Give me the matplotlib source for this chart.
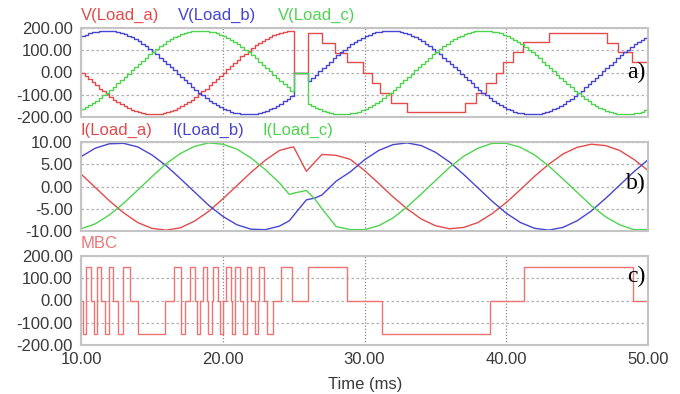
import numpy as np
import matplotlib.pyplot as plt
from matplotlib.ticker import FormatStrFormatter

plt.rcParams['font.family'] = ['Liberation Sans', 'DejaVu Sans']
plt.rcParams['axes.unicode_minus'] = False

# ---- a) load voltages (V), staircase samples every 0.25 ms
t_v = np.arange(10.0, 50.001, 0.25)
v_b = [163, 170, 176, 180, 184, 186, 188, 188,
       187, 185, 182, 177, 172, 165, 158, 149,
       140, 129, 118, 106, 94, 81, 67, 53,
       39, 25, 10, -5, -20, -34, -49, -63,
       -77, -90, -102, -114, -126, -136, -146, -155,
       -163, -170, -176, -180, -184, -186, -188, -188,
       -187, -185, -182, -177, -172, -165, -158, -149,
       -140, -129, -118, -106, 0, 0, 0, 0,
       -39, -25, -10, 5, 20, 34, 49, 63,
       77, 90, 102, 114, 126, 136, 146, 155,
       163, 170, 176, 180, 184, 186, 188, 188,
       187, 185, 182, 177, 172, 165, 158, 149,
       140, 129, 118, 106, 94, 81, 67, 53,
       39, 25, 10, -5, -20, -34, -49, -63,
       -77, -90, -102, -114, -126, -136, -146, -155,
       -163, -170, -176, -180, -184, -186, -188, -188,
       -187, -185, -182, -177, -172, -165, -158, -149,
       -140, -129, -118, -106, -94, -81, -67, -53,
       -39, -25, -10, 5, 20, 34, 49, 63,
       77, 90, 102, 114, 126, 136, 146, 155,
       163]
v_c = [-163, -155, -146, -136, -126, -114, -102, -90,
       -77, -63, -49, -34, -20, -5, 10, 25,
       39, 53, 67, 81, 94, 106, 118, 129,
       140, 149, 158, 165, 172, 177, 182, 185,
       187, 188, 188, 186, 184, 180, 176, 170,
       163, 155, 146, 136, 126, 114, 102, 90,
       77, 63, 49, 34, 20, 5, -10, -25,
       -39, -53, -67, -81, 0, 0, 0, 0,
       -140, -149, -158, -165, -172, -177, -182, -185,
       -187, -188, -188, -186, -184, -180, -176, -170,
       -163, -155, -146, -136, -126, -114, -102, -90,
       -77, -63, -49, -34, -20, -5, 10, 25,
       39, 53, 67, 81, 94, 106, 118, 129,
       140, 149, 158, 165, 172, 177, 182, 185,
       187, 188, 188, 186, 184, 180, 176, 170,
       163, 155, 146, 136, 126, 114, 102, 90,
       77, 63, 49, 34, 20, 5, -10, -25,
       -39, -53, -67, -81, -94, -106, -118, -129,
       -140, -149, -158, -165, -172, -177, -182, -185,
       -187, -188, -188, -186, -184, -180, -176, -170,
       -163]
# phase a: fine steps before the fault, coarse levels after it
t_va = np.r_[np.arange(10.0, 25.0, 0.25),
             [25.0, 26.0, 27.0, 27.9, 28.8, 29.9, 30.5, 31.1, 31.9, 33.0,
              37.1, 37.9, 38.6, 39.3, 39.8, 40.5, 41.2, 43.0, 47.1, 47.9,
              48.9, 50.0]]
v_a = [0, -15, -29, -44, -58, -72, -85, -98,
       -110, -122, -133, -143, -152, -160, -168, -174,
       -179, -183, -186, -187, -188, -187, -186, -183,
       -179, -174, -168, -160, -152, -143, -133, -122,
       -110, -98, -85, -72, -58, -44, -29, -15,
       0, 15, 29, 44, 58, 72, 85, 98,
       110, 122, 133, 143, 152, 160, 168, 174,
       179, 183, 186, 187,
       0, 177, 132, 88, 45, 0, -45, -90, -135, -177,
       -135, -90, -45, 0, 45, 90, 135, 177, 132, 90,
       45, 45]

# ---- b) load currents (A)
t_i = [10, 11, 12, 13, 14, 15, 16, 17, 18, 19, 20, 21, 22, 23, 24,
       24.7, 25.0, 25.9, 26.5, 27.0, 28.0,
       29, 30, 31, 32, 33, 34, 35, 36, 37, 38, 39, 40, 41, 42, 43, 44,
       45, 46, 47, 48, 49, 50]
i_a = [2.8, -0.2, -3.2, -5.9, -8.1, -9.4, -9.8, -9.3, -7.8, -5.6,
       -2.8, 0.2, 3.2, 5.9, 8.1,
       8.7, 8.9, 3.4, 5.5, 7.2, 7.0,
       6.1, 3.6, 0.7, -2.3, -5.0, -7.3, -8.8, -9.5, -9.2, -8.1, -6.1,
       -3.6, -0.7, 2.3, 5.0, 7.3, 8.8, 9.5, 9.2, 8.1, 6.1, 3.6]
i_b = [6.7, 8.6, 9.6, 9.7, 8.9, 7.1, 4.7, 1.8, -1.2, -4.2,
       -6.7, -8.6, -9.6, -9.7, -8.9,
       -7.7, -6.5, -3.0, -2.6, -1.9, 1.2,
       3.3, 6.0, 8.1, 9.4, 9.8, 9.2, 7.7, 5.5, 2.7, -0.3, -3.3,
       -6.0, -8.1, -9.4, -9.8, -9.2, -7.7, -5.5, -2.7, 0.3, 3.3, 6.0]
i_c = [-9.5, -8.4, -6.4, -3.8, -0.8, 2.2, 5.1, 7.4, 9.0, 9.8,
       9.5, 8.4, 6.4, 3.8, 0.8,
       -1.8, -1.5, -0.9, -2.8, -5.0, -9.0,
       -9.7, -9.7, -8.8, -7.1, -4.6, -1.7, 1.3, 4.3, 6.8, 8.6, 9.7,
       9.7, 8.8, 7.1, 4.6, 1.7, -1.3, -4.3, -6.8, -8.6, -9.7, -9.7]

# ---- c) MBC output, switching instants (ms) and levels (V)
t_mbc = [10.00, 10.14, 10.38, 10.68, 10.92, 11.15, 11.43, 11.67, 11.95, 12.26,
         12.61, 12.96, 13.48, 14.05, 15.95, 16.56, 17.08, 17.36, 17.69, 18.05,
         18.16, 18.40, 18.63, 18.87, 18.98, 19.22, 19.34, 19.69, 19.81, 20.04,
         20.23, 20.56, 20.63, 20.87, 21.22, 21.45, 21.69, 21.98, 22.28, 22.51,
         22.58, 22.91, 23.10, 23.57, 24.10, 24.90, 26.00, 28.80, 31.20, 38.87,
         41.22, 48.93, 50.00]
v_mbc = [0, -150, 150, 0, -150, 150, 0, -150, 150, 0,
         -150, 150, 0, -150, 0, 150, -150, 0, 150, 0,
         -150, 0, 150, 0, -150, 0, 150, 0, -150, 0,
         150, 0, -150, 150, 0, -150, 150, 0, -150, 0,
         150, 0, -150, 0, 150, 0, 150, 0, -150, 0,
         150, 0, 0]

RED = '#e44b4b'
BLUE = '#4646d2'
GREEN = '#4fd44f'
MBC_RED = '#f07474'
TXT = '#3a3a3a'

fig = plt.figure(figsize=(6.8, 3.94), dpi=100)
left, width, h = 81 / 680, 567 / 680, 89 / 394
ax1 = fig.add_axes([left, 1 - 117 / 394, width, h])
ax2 = fig.add_axes([left, 1 - 231 / 394, width, h])
ax3 = fig.add_axes([left, 1 - 345 / 394, width, h])

ax1.plot(t_va, v_a, color=RED, lw=1.0, drawstyle='steps-post')
ax1.plot(t_v, v_b, color=BLUE, lw=1.0, drawstyle='steps-post')
ax1.plot(t_v, v_c, color=GREEN, lw=1.0, drawstyle='steps-post')

ax2.plot(t_i, i_a, color=RED, lw=1.0)
ax2.plot(t_i, i_b, color=BLUE, lw=1.0)
ax2.plot(t_i, i_c, color=GREEN, lw=1.0)

ax3.plot(t_mbc, v_mbc, color=MBC_RED, lw=1.0, drawstyle='steps-post')

for ax, yl in ((ax1, 200), (ax2, 10), (ax3, 200)):
    ax.set_xlim(10, 50)
    ax.set_ylim(-yl, yl)
    ax.set_yticks(np.linspace(-yl, yl, 5))
    ax.set_xticks([10, 20, 30, 40, 50])
    ax.yaxis.set_major_formatter(FormatStrFormatter('%.2f'))
    ax.xaxis.set_major_formatter(FormatStrFormatter('%.2f'))
    ax.tick_params(length=0, labelsize=12, labelcolor=TXT, pad=6)
    ax.grid(axis='y', color='#b0b0b0', linestyle=(0, (2, 2)), lw=0.9)
    ax.grid(axis='x', color='#8c8c8c', linestyle=(0, (1, 1.5)), lw=0.9)
    for s in ax.spines.values():
        s.set_color('#c4c4c4')
        s.set_linewidth(1.5)
    if ax is not ax3:
        ax.tick_params(labelbottom=False)

ax3.tick_params(axis='x', pad=5)

# series titles above each panel
fs = 12
for x, lab, c in ((81, 'V(Load_a)', RED), (178, 'V(Load_b)', BLUE), (278, 'V(Load_c)', GREEN)):
    fig.text(x / 680, 1 - 15 / 394, lab, color=c, fontsize=fs, ha='left', va='center')
for x, lab, c in ((81, 'I(Load_a)', RED), (172, 'I(Load_b)', BLUE), (263, 'I(Load_c)', GREEN)):
    fig.text(x / 680, 1 - 130 / 394, lab, color=c, fontsize=fs, ha='left', va='center')
fig.text(81 / 680, 1 - 243 / 394, 'MBC', color=MBC_RED, fontsize=fs, ha='left', va='center')

fig.text(365 / 680, 1 - 385 / 394, 'Time (ms)', color=TXT, fontsize=fs, ha='center', va='center')

# panel tags
for y, lab in ((72, 'a)'), (183, 'b)'), (276, 'c)')):
    fig.text(646 / 680, 1 - y / 394, lab, fontsize=17, ha='right', va='center',
             family='Liberation Serif', color='black')

fig.savefig('out.png', dpi=100)
